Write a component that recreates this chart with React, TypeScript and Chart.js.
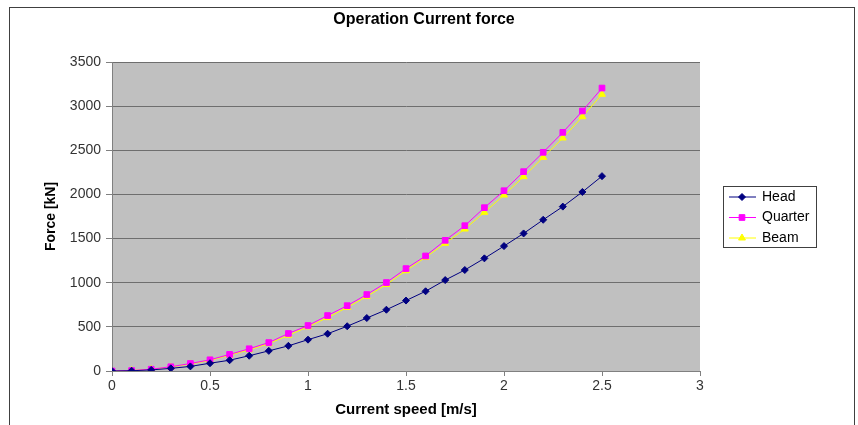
import React, { useEffect, useRef } from 'react';
import { Chart, registerables } from 'chart.js';
import { drawPoint } from 'chart.js/helpers';

Chart.register(...registerables);

const chartTitle = 'Operation Current force';
const xAxisTitle = 'Current speed [m/s]';
const yAxisTitle = 'Force [kN]';
const seriesNames = ['Head', 'Quarter', 'Beam'];

const speeds = [0, 0.1, 0.2, 0.3, 0.4, 0.5, 0.6, 0.7, 0.8, 0.9, 1.0, 1.1, 1.2, 1.3, 1.4, 1.5, 1.6, 1.7, 1.8, 1.9, 2.0, 2.1, 2.2, 2.3, 2.4, 2.5];
const headForce = [0, 3, 12, 30, 52, 88, 122, 173, 228, 285, 355, 422, 507, 600, 694, 798, 903, 1030, 1144, 1276, 1415, 1558, 1713, 1862, 2028, 2207];
const quarterForce = [0, 5, 20, 48, 85, 127, 188, 252, 322, 425, 515, 628, 740, 866, 1002, 1160, 1303, 1480, 1646, 1850, 2042, 2258, 2477, 2703, 2945, 3205];
const beamForce = [0, 5, 19, 45, 80, 120, 180, 240, 310, 405, 500, 605, 720, 845, 980, 1136, 1288, 1446, 1608, 1797, 1993, 2201, 2420, 2639, 2880, 3134];

const xTickValues = [0, 0.5, 1, 1.5, 2, 2.5, 3];
const yTickValues = [0, 500, 1000, 1500, 2000, 2500, 3000, 3500];

const FONT = "'Liberation Sans', Arial, sans-serif";

const decorPlugin = {
  id: 'decor',
  beforeDraw(chart: any) {
    const { ctx, chartArea } = chart;
    ctx.save();
    ctx.fillStyle = '#ffffff';
    ctx.fillRect(0, 0, chart.width, chart.height);
    ctx.strokeStyle = '#404040';
    ctx.lineWidth = 1;
    ctx.strokeRect(9.5, 7.5, 845, 440);
    ctx.fillStyle = '#c0c0c0';
    ctx.fillRect(chartArea.left, chartArea.top, chartArea.right - chartArea.left, chartArea.bottom - chartArea.top);
    ctx.fillStyle = '#000000';
    ctx.font = `bold 16px ${FONT}`;
    ctx.textAlign = 'center';
    ctx.textBaseline = 'middle';
    ctx.fillText(chartTitle, 424, 20);
    ctx.restore();
  },
  afterDraw(chart: any) {
    const { ctx } = chart;
    ctx.save();
    const bx = 723.5, by = 186.5, bw = 93, bh = 61;
    ctx.fillStyle = '#ffffff';
    ctx.fillRect(bx, by, bw, bh);
    ctx.strokeStyle = '#404040';
    ctx.lineWidth = 1;
    ctx.strokeRect(bx, by, bw, bh);
    ctx.font = `14px ${FONT}`;
    ctx.textAlign = 'left';
    ctx.textBaseline = 'middle';
    chart.data.datasets.forEach((ds: any, i: number) => {
      const cy = 197 + i * 20.5;
      ctx.strokeStyle = ds.borderColor;
      ctx.lineWidth = 1;
      ctx.beginPath();
      ctx.moveTo(729, cy);
      ctx.lineTo(756, cy);
      ctx.stroke();
      ctx.fillStyle = ds.pointBackgroundColor;
      ctx.strokeStyle = ds.pointBorderColor;
      drawPoint(ctx, { pointStyle: ds.pointStyle, radius: ds.pointRadius, rotation: 0, borderWidth: 1 }, 742, cy);
      ctx.fillStyle = '#000000';
      ctx.fillText(seriesNames[i], 762, cy);
    });
    ctx.restore();
  },
};

export default function App() {
  const canvasRef = useRef<HTMLCanvasElement | null>(null);

  useEffect(() => {
    if (!canvasRef.current) return;
    const mk = (vals: number[]) => speeds.map((x, i) => ({ x, y: vals[i] }));
    const chart = new Chart(canvasRef.current, {
      type: 'line',
      data: {
        datasets: [
          {
            label: seriesNames[0],
            data: mk(headForce),
            borderColor: '#000080',
            backgroundColor: '#000080',
            pointBackgroundColor: '#000080',
            pointBorderColor: '#000080',
            pointStyle: 'rectRot',
            pointRadius: 3.5,
            borderWidth: 1,
            tension: 0,
          },
          {
            label: seriesNames[1],
            data: mk(quarterForce),
            borderColor: '#ff00ff',
            backgroundColor: '#ff00ff',
            pointBackgroundColor: '#ff00ff',
            pointBorderColor: '#ff00ff',
            pointStyle: 'rect',
            pointRadius: 4,
            borderWidth: 1,
            tension: 0,
          },
          {
            label: seriesNames[2],
            data: mk(beamForce),
            borderColor: '#ffff00',
            backgroundColor: '#ffff00',
            pointBackgroundColor: '#ffff00',
            pointBorderColor: '#ffff00',
            pointStyle: 'triangle',
            pointRadius: 4,
            borderWidth: 1,
            tension: 0,
          },
        ],
      } as any,
      options: {
        responsive: false,
        animation: false,
        layout: { padding: { top: 62, right: 158, left: 0, bottom: 0 } },
        plugins: {
          legend: { display: false },
          title: { display: false },
          tooltip: { enabled: false },
        },
        scales: {
          x: {
            type: 'linear',
            min: 0,
            max: 3,
            afterFit: (s: any) => { s.height = 54; },
            afterBuildTicks: (s: any) => { s.ticks = xTickValues.map((v) => ({ value: v })); },
            ticks: {
              color: '#333333',
              font: { family: FONT, size: 14 },
              padding: 2,
              maxRotation: 0,
              callback: (v: any) => String(v),
            },
            grid: { drawOnChartArea: false, drawTicks: true, tickLength: 5, color: '#808080' },
            border: { color: '#808080', width: 1 },
            title: {
              display: true,
              text: xAxisTitle,
              color: '#000000',
              font: { family: FONT, size: 15, weight: 'bold' },
              padding: { top: 0, bottom: 6 },
            },
          },
          y: {
            type: 'linear',
            min: 0,
            max: 3500,
            afterFit: (s: any) => { s.width = 112; },
            afterBuildTicks: (s: any) => { s.ticks = yTickValues.map((v) => ({ value: v })); },
            ticks: {
              color: '#333333',
              font: { family: FONT, size: 14 },
              padding: 5,
              callback: (v: any) => String(v),
            },
            grid: { color: '#6e6e6e', tickColor: '#808080', tickLength: 6, lineWidth: 1 },
            border: { color: '#808080', width: 1 },
            title: {
              display: true,
              text: yAxisTitle,
              color: '#000000',
              font: { family: FONT, size: 14, weight: 'bold' },
              padding: { top: 43, bottom: 0 },
            },
          },
        },
      } as any,
      plugins: [decorPlugin],
    });
    return () => chart.destroy();
  }, []);

  return (
    <div style={{ position: 'absolute', left: 0, top: 0, width: 858, height: 425 }}>
      <canvas ref={canvasRef} width={858} height={425} style={{ width: 858, height: 425 }} />
    </div>
  );
}
